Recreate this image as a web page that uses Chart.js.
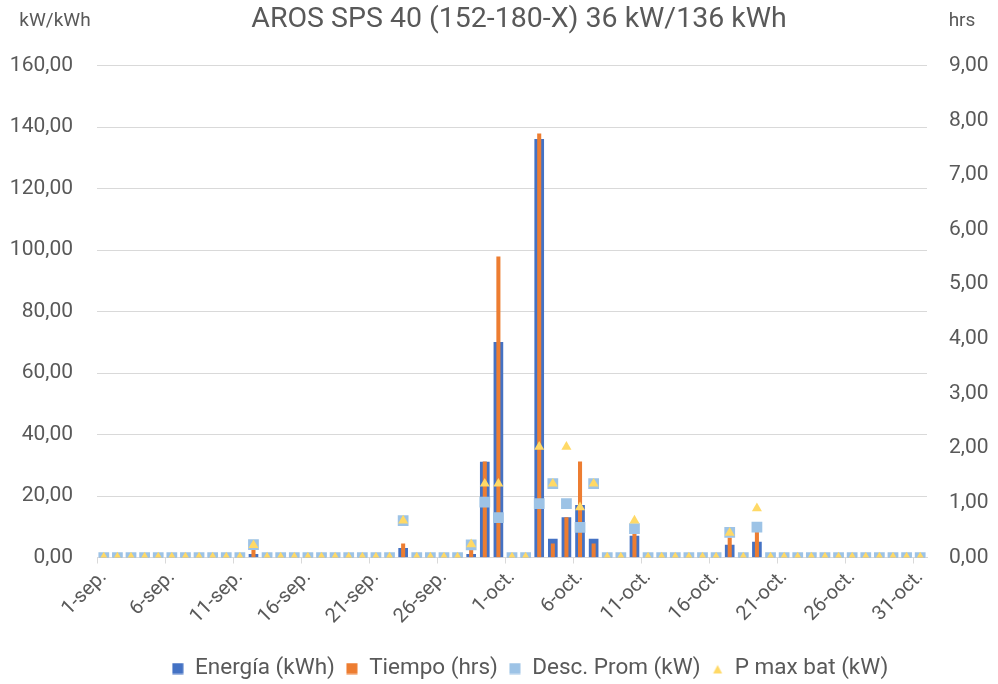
<!DOCTYPE html>
<html><head><meta charset="utf-8">
<script src="https://cdn.jsdelivr.net/npm/chart.js@4/dist/chart.umd.min.js"></script>
<style>html,body{margin:0;padding:0;background:#fff}#wrap{width:998px;height:684px}</style>
</head><body><div id="wrap"><canvas id="c" width="998" height="684"></canvas></div>
<script>
const chartTitle = 'AROS SPS 40 (152-180-X) 36 kW/136 kWh';
const leftAxisTitle = 'kW/kWh';
const rightAxisTitle = 'hrs';
const categories = [
 '1-sep.','2-sep.','3-sep.','4-sep.','5-sep.','6-sep.','7-sep.','8-sep.','9-sep.','10-sep.',
 '11-sep.','12-sep.','13-sep.','14-sep.','15-sep.','16-sep.','17-sep.','18-sep.','19-sep.','20-sep.',
 '21-sep.','22-sep.','23-sep.','24-sep.','25-sep.','26-sep.','27-sep.','28-sep.','29-sep.','30-sep.',
 '1-oct.','2-oct.','3-oct.','4-oct.','5-oct.','6-oct.','7-oct.','8-oct.','9-oct.','10-oct.',
 '11-oct.','12-oct.','13-oct.','14-oct.','15-oct.','16-oct.','17-oct.','18-oct.','19-oct.','20-oct.',
 '21-oct.','22-oct.','23-oct.','24-oct.','25-oct.','26-oct.','27-oct.','28-oct.','29-oct.','30-oct.',
 '31-oct.'
];
const energia = [
 0,0,0,0,0,0,0,0,0,0,
 0,1,0,0,0,0,0,0,0,0,
 0,0,3,0,0,0,0,1,31,70,
 0,0,136,6,13,17,6,0,0,7,
 0,0,0,0,0,0,4,0,5,0,
 0,0,0,0,0,0,0,0,0,0,
 0
];
const tiempo = [
 0,0,0,0,0,0,0,0,0,0,
 0,0.25,0,0,0,0,0,0,0,0,
 0,0,0.25,0,0,0,0,0.17,1.75,5.5,
 0,0,7.75,0.25,0.73,1.75,0.25,0,0,0.43,
 0,0,0,0,0,0,0.36,0,0.47,0,
 0,0,0,0,0,0,0,0,0,0,
 0
];
const descProm = [
 0,0,0,0,0,0,0,0,0,0,
 0,4.2,0,0,0,0,0,0,0,0,
 0,0,12,0,0,0,0,4.1,18,13,
 0,0,17.5,24,17.5,9.8,24,0,0,9.4,
 0,0,0,0,0,0,8.2,0,9.9,0,
 0,0,0,0,0,0,0,0,0,0,
 0
];
const pMaxBat = [
 0,0,0,0,0,0,0,0,0,0,
 0,4,0,0,0,0,0,0,0,0,
 0,0,12,0,0,0,0,4.3,24,24,
 0,0,36,24,36,16.3,24,0,0,12,
 0,0,0,0,0,0,8,0,16,0,
 0,0,0,0,0,0,0,0,0,0,
 0
];
const seriesNames = ['Energía (kWh)','Tiempo (hrs)','Desc. Prom (kW)','P max bat (kW)'];
const leftTicks = {min:0, max:160, step:20};
const rightTicks = {min:0, max:9, step:1};

const FONT = 'Roboto';
const TXT = '#595959';
const GRID = '#D9D9D9';
const C_BLUE = '#4472C4', C_ORANGE = '#ED7D31', C_LBLUE = '#9DC3E6', C_YELLOW = '#FFD966';

function fmt(v){ return Number(v).toFixed(2).replace('.', ','); }

function makeIcon(color, shape){
  const cv = document.createElement('canvas');
  cv.width = 12; cv.height = 12;
  const g = cv.getContext('2d');
  g.fillStyle = color;
  if (shape === 'tri') {
    g.beginPath(); g.moveTo(6,2.5); g.lineTo(10.5,11); g.lineTo(1.5,11); g.closePath(); g.fill();
  } else {
    g.fillRect(0.5,0.5,11,11);
  }
  return cv;
}
const legendIcons = [makeIcon(C_BLUE), makeIcon(C_ORANGE), makeIcon(C_LBLUE), makeIcon(C_YELLOW,'tri')];

const axisTitles = {
  id:'axisTitles',
  afterDraw(chart){
    const ctx = chart.ctx, a = chart.chartArea;
    ctx.save();
    ctx.font = '19px ' + FONT;
    ctx.fillStyle = TXT;
    ctx.textAlign = 'center';
    ctx.textBaseline = 'middle';
    ctx.fillText(leftAxisTitle, a.left - 42, 21);
    ctx.fillText(rightAxisTitle, a.right + 35, 21);
    ctx.restore();
  }
};

// Nudge title and legend boxes to the reference placement after layout
const boxNudge = {
  id:'boxNudge',
  afterLayout(chart){
    const lg = chart.legend;
    if (lg) {
      const h = lg.bottom - lg.top, w = lg.right - lg.left;
      lg.top = 668 - h / 2; lg.bottom = lg.top + h;
      lg.left = 530 - w / 2; lg.right = lg.left + w;
    }
    const t = chart.titleBlock;
    if (t) { t.left += 7; t.right += 7; }
  }
};

new Chart(document.getElementById('c'), {
  data: {
    labels: categories,
    datasets: [
      {type:'line', label: seriesNames[3], data: pMaxBat, yAxisID:'y', showLine:false,
       pointStyle:'triangle', pointRadius:5.8, pointHoverRadius:5.8, pointBackgroundColor:C_YELLOW, pointBorderWidth:0, borderColor:C_YELLOW, backgroundColor:C_YELLOW, order:0},
      {type:'line', label: seriesNames[2], data: descProm, yAxisID:'y', showLine:false,
       pointStyle:'rect', pointRadius:7.6, pointHoverRadius:7.6, pointBackgroundColor:C_LBLUE, pointBorderWidth:0, borderColor:C_LBLUE, backgroundColor:C_LBLUE, order:1},
      {type:'bar', label: seriesNames[1], data: tiempo, yAxisID:'y2', backgroundColor:C_ORANGE,
       barThickness:3.4, grouped:false, order:2},
      {type:'bar', label: seriesNames[0], data: energia, yAxisID:'y', backgroundColor:C_BLUE,
       barThickness:9, grouped:false, order:3}
    ]
  },
  options: {
    responsive:false,
    devicePixelRatio:1,
    animation:false,
    layout:{padding:{top:0,bottom:0,left:0,right:0}},
    plugins:{
      tooltip:{enabled:false},
      title:{display:true, fullSize:false, text:chartTitle, color:TXT, font:{family:FONT, size:28.5, weight:'normal'}, padding:{top:3,bottom:28.4}},
      legend:{
        position:'bottom',
        fullSize:false,
        labels:{
          color:TXT, font:{family:FONT, size:22.5}, usePointStyle:true, boxWidth:12, boxHeight:12, padding:11,
          generateLabels(chart){
            return seriesNames.map((name, k) => ({
              text:name, fillStyle:[C_BLUE,C_ORANGE,C_LBLUE,C_YELLOW][k], strokeStyle:'transparent', lineWidth:0,
              pointStyle:legendIcons[k], hidden:false, fontColor:TXT,
              datasetIndex:[3,2,1,0][k]
            }));
          }
        }
      }
    },
    scales:{
      x:{
        type:'category',
        offset:true,
        grid:{offset:true, drawOnChartArea:false, drawTicks:true, tickLength:6,
              color:(c)=> (c.index % 5 === 0 ? GRID : 'rgba(0,0,0,0)')},
        border:{color:GRID, width:1},
        ticks:{autoSkip:false, maxRotation:45, minRotation:45, color:TXT, font:{family:FONT, size:20}, padding:2,
               callback:(v,i)=> (i % 5 === 0 ? categories[i] : '')},
        afterFit(s){ s.height = 83; }
      },
      y:{
        position:'left', min:leftTicks.min, max:leftTicks.max,
        grid:{color:GRID, drawTicks:false, lineWidth:1},
        border:{display:false},
        ticks:{stepSize:leftTicks.step, color:TXT, font:{family:FONT, size:21}, padding:24, callback:(v)=>fmt(v)},
        afterFit(s){ s.width = 97; }
      },
      y2:{
        position:'right', min:rightTicks.min, max:rightTicks.max,
        grid:{drawOnChartArea:false, drawTicks:false},
        border:{display:false},
        ticks:{stepSize:rightTicks.step, color:TXT, font:{family:FONT, size:21}, padding:22, callback:(v)=>fmt(v)},
        afterFit(s){ s.width = 71; }
      }
    }
  },
  plugins:[axisTitles, boxNudge]
});
</script>
</body></html>
